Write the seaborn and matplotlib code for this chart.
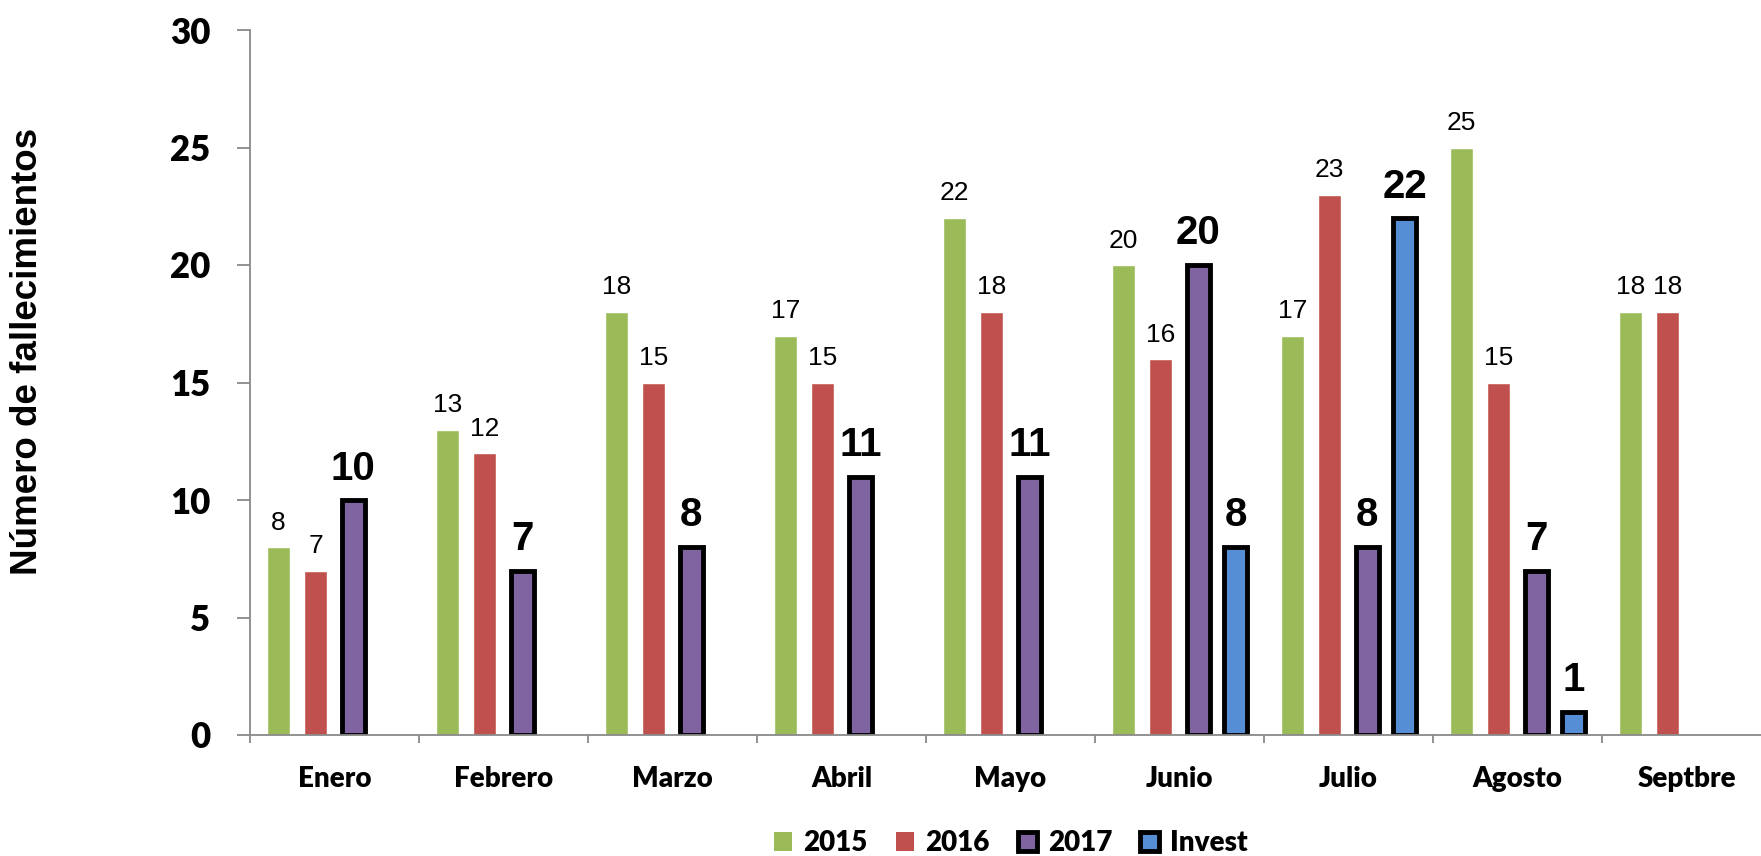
import matplotlib
matplotlib.use("Agg")
import matplotlib.pyplot as plt
from matplotlib.patches import Patch
import seaborn as sns
import numpy as np
import pandas as pd

# -----------------------------
# 0. Data
# -----------------------------
months = ["Enero", "Febrero", "Marzo", "Abril", "Mayo", "Junio", "Julio", "Agosto", "Septbre"]
series = ["2015", "2016", "2017", "Invest"]
v2015 = [8, 13, 18, 17, 22, 20, 17, 25, 18]
v2016 = [7, 12, 15, 15, 18, 16, 23, 15, 18]
v2017 = [10, 7, 8, 11, 11, 20, 8, 7, np.nan]
vinvest = [np.nan, np.nan, np.nan, np.nan, np.nan, 8, 22, 1, np.nan]
colors = {"2015": "#9BBB59", "2016": "#C0504D", "2017": "#8064A2", "Invest": "#558ED5"}

df = pd.DataFrame({"Mes": months, "2015": v2015, "2016": v2016, "2017": v2017, "Invest": vinvest})
long_df = df.melt(id_vars="Mes", var_name="Serie", value_name="Valor").dropna()

# -----------------------------
# 1. Figure
# -----------------------------
sns.set_style("white")
plt.rcParams["font.family"] = ["Liberation Sans", "DejaVu Sans"]
plt.rcParams["text.color"] = "black"
plt.rcParams["xtick.color"] = "black"
plt.rcParams["ytick.color"] = "black"

fig = plt.figure(figsize=(17.61, 8.56), dpi=100)
ax = fig.add_axes([250 / 1761, 121 / 856, 1521 / 1761, 705 / 856])

sns.barplot(data=long_df, x="Mes", y="Valor", hue="Serie", order=months,
            hue_order=series, palette=colors, width=0.888, gap=0.387,
            saturation=1, legend=False, ax=ax, errorbar=None)

# bold outlined series + labels
for cont, name in zip(ax.containers, series):
    bold = name in ("2017", "Invest")
    if bold:
        for p in cont:
            p.set_edgecolor("black")
            p.set_linewidth(3.5)
    ax.bar_label(cont, labels=[f"{int(p.get_height())}" for p in cont],
                 padding=9, fontsize=29 if bold else 19, color="black",
                 fontweight="bold" if bold else "normal")

ax.set_ylim(0, 30)
ax.set_xlim(-0.5, 8.5)
ax.set_yticks(range(0, 31, 5))
ax.set_xlabel("")
ax.set_ylabel("")

# axes styling
for s in ["top", "right"]:
    ax.spines[s].set_visible(False)
for s in ["left", "bottom"]:
    ax.spines[s].set_color("#898989")
    ax.spines[s].set_linewidth(1.3)

ax.tick_params(axis="y", length=9.5, width=1.3, color="#898989", labelcolor="black", pad=19, left=True)
ax.tick_params(axis="x", length=0, pad=22, labelcolor="black")
ax.set_xticks(np.arange(-0.5, 9, 1), minor=True)
ax.tick_params(axis="x", which="minor", length=6, width=1.3, color="#898989", bottom=True)

for lab in ax.get_yticklabels():
    lab.set_fontfamily("Lato")
    lab.set_fontweight("heavy")
    lab.set_fontsize(25)
for lab in ax.get_xticklabels():
    lab.set_fontfamily("Lato")
    lab.set_fontweight("heavy")
    lab.set_fontsize(20)

fig.text(28 / 1761, 1 - 351 / 856, "Número de fallecimientos", rotation=90,
         ha="center", va="center", fontsize=26.5, fontweight="bold", color="black")

# legend
handles = []
for name in series:
    if name in ("2017", "Invest"):
        handles.append(Patch(facecolor=colors[name], edgecolor="black", linewidth=3.5, label=name))
    else:
        handles.append(Patch(facecolor=colors[name], edgecolor=colors[name], linewidth=0, label=name))
ax.legend(handles=handles, loc="center", bbox_to_anchor=(0.5, (735 - 843) / 705),
          ncol=4, frameon=False, handlelength=0.68, handleheight=0.68,
          handletextpad=0.4, columnspacing=1.0, labelcolor="black",
          prop={"family": "Lato", "weight": "heavy", "size": 20})

fig.savefig("out.png", dpi=100)
